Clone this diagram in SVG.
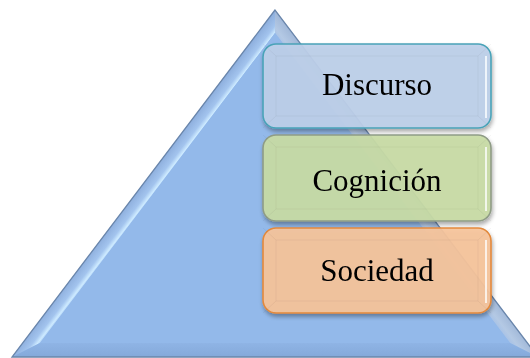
<svg xmlns="http://www.w3.org/2000/svg" width="530" height="358" viewBox="0 0 530 358">
  <defs>
    <filter id="shadow" x="-10%" y="-10%" width="125%" height="135%">
      <feGaussianBlur in="SourceAlpha" stdDeviation="2"/>
      <feOffset dx="1" dy="3" result="b"/>
      <feComponentTransfer><feFuncA type="linear" slope="0.35"/></feComponentTransfer>
      <feMerge><feMergeNode/><feMergeNode in="SourceGraphic"/></feMerge>
    </filter>
    <linearGradient id="leftFacet" gradientUnits="userSpaceOnUse" x1="100" y1="241" x2="111" y2="249.4">
      <stop offset="0" stop-color="#8fb0de"/>
      <stop offset="0.6" stop-color="#a3c4ee"/>
      <stop offset="0.9" stop-color="#cdeaff"/>
      <stop offset="1" stop-color="#b8d8f8"/>
    </linearGradient>
    <linearGradient id="rightFacet" gradientUnits="userSpaceOnUse" x1="450" y1="241" x2="439" y2="249.4">
      <stop offset="0" stop-color="#a2b9d9"/>
      <stop offset="0.7" stop-color="#b4c9e4"/>
      <stop offset="1" stop-color="#a9c3e6"/>
    </linearGradient>
    <linearGradient id="bottomFacet" x1="0" y1="0" x2="0" y2="1">
      <stop offset="0" stop-color="#8fb4e5"/>
      <stop offset="1" stop-color="#84a9da"/>
    </linearGradient>
  </defs>
  <style>
    .lbl { font-family: "Liberation Serif", "Times New Roman", serif; font-size: 31px; fill: #000; text-anchor: middle; }
    .box { stroke-width: 1.6; fill-opacity: 0.93; }
    .bevelDark { fill: none; stroke: #000000; stroke-opacity: 0.045; stroke-width: 1; }
    .hl { stroke: #ffffff; stroke-opacity: 0.75; stroke-width: 2; fill: none; }
  </style>

  <g id="pyramid">
    <polygon points="275,10 12,357 538,357" fill="#93b9ea"/>
    <polygon points="275,10 12,357 40,343 275,33" fill="url(#leftFacet)"/>
    <polygon points="275,10 275,33 510,343 538,357" fill="url(#rightFacet)"/>
    <polygon points="12,357 40,343 510,343 538,357" fill="url(#bottomFacet)"/>
    <polygon points="275,33 40,343 510,343" fill="#93b9ea"/>
    <polygon points="275,10 12,357 538,357" fill="none" stroke="#6a86ab" stroke-width="1.3"/>
  </g>

  <g id="discurso" filter="url(#shadow)">
    <rect class="box" x="263" y="44" width="228" height="84" rx="13" fill="#bdd0e9" stroke="#4aa3b8"/>
    <path class="bevelDark" d="M276,56 L478,56 L478,116 L276,116 Z M263,44 L276,56 M491,44 L478,56 M263,128 L276,116 M491,128 L478,116"/>
    <line class="hl" x1="486" y1="56" x2="486" y2="118"/>
    <text class="lbl" x="377" y="95">Discurso</text>
  </g>

  <g id="cognicion" filter="url(#shadow)">
    <rect class="box" x="263" y="135" width="228" height="86" rx="13" fill="#c8dba6" stroke="#8f9c86"/>
    <path class="bevelDark" d="M276,147 L478,147 L478,209 L276,209 Z M263,135 L276,147 M491,135 L478,147 M263,221 L276,209 M491,221 L478,209"/>
    <line class="hl" x1="486" y1="147" x2="486" y2="211"/>
    <text class="lbl" x="377" y="191">Cognición</text>
  </g>

  <g id="sociedad" filter="url(#shadow)">
    <rect class="box" x="263" y="228" width="228" height="85" rx="13" fill="#f6c49b" stroke="#e3893c"/>
    <path class="bevelDark" d="M276,240 L478,240 L478,301 L276,301 Z M263,228 L276,240 M491,228 L478,240 M263,313 L276,301 M491,313 L478,301"/>
    <line class="hl" x1="486" y1="240" x2="486" y2="303"/>
    <text class="lbl" x="377" y="281">Sociedad</text>
  </g>
</svg>
